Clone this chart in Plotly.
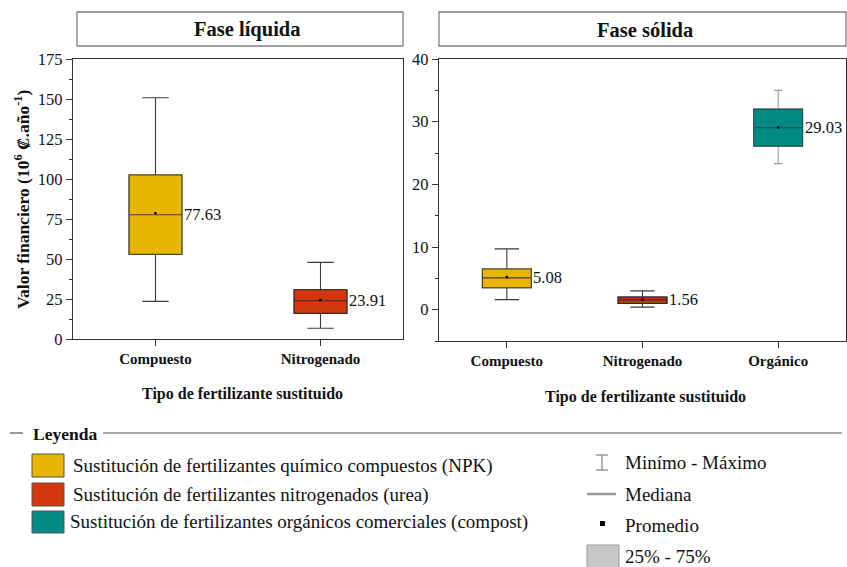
import plotly.graph_objects as go

W, H = 847, 567
SERIF = "Liberation Serif, Times New Roman, serif"

# ---- Fase líquida (10^6 ₡.año^-1) ----
liq_cat = ["Compuesto", "Nitrogenado"]
liq_min = [23.5, 6.7]
liq_q1 = [53.0, 16.0]
liq_med = [77.63, 23.91]
liq_q3 = [102.5, 30.8]
liq_max = [150.8, 47.9]
liq_mean = [78.6, 24.4]

# ---- Fase sólida ----
sol_cat = ["Compuesto", "Nitrogenado", "Orgánico"]
sol_min = [1.6, 0.4, 23.3]
sol_q1 = [3.5, 1.0, 26.1]
sol_med = [5.08, 1.56, 29.03]
sol_q3 = [6.5, 2.0, 32.0]
sol_max = [9.7, 3.0, 35.0]
sol_mean = [5.2, 1.6, 29.1]

fill = {"Compuesto": "#E9B500", "Nitrogenado": "#D2380B", "Orgánico": "#008A85"}
edge = {"Compuesto": "#4a4030", "Nitrogenado": "#3a2a25", "Orgánico": "#1f4f4c"}
whisk = {"Compuesto": "#3a3a3a", "Nitrogenado": "#3a3a3a", "Orgánico": "#9a9a9a"}
capw = {"Compuesto": 0.5, "Nitrogenado": 0.5, "Orgánico": 0.17}

legend_items = [
    "Sustitución de fertilizantes químico compuestos (NPK)",
    "Sustitución de fertilizantes nitrogenados (urea)",
    "Sustitución de fertilizantes orgánicos comerciales (compost)",
]
legend_colors = [fill["Compuesto"], fill["Nitrogenado"], fill["Orgánico"]]
stat_labels = ["Minímo - Máximo", "Mediana", "Promedio", "25% - 75%"]


def fx(px):
    return px / W


def fy(py):
    return 1 - py / H


fig = go.Figure()
annotations = []
shapes = []


def text_at(px, py, text, size, xanchor="center", angle=0):
    annotations.append(dict(x=fx(px), y=fy(py), xref="paper", yref="paper",
                            xanchor=xanchor, yanchor="middle", textangle=angle,
                            text=text, showarrow=False,
                            font=dict(family=SERIF, size=size, color="#111")))


def add_panel(cats, lo, q1, med, q3, hi, mean, xa, ya, bw):
    for i, c in enumerate(cats):
        # whiskers + box
        fig.add_trace(go.Box(
            x=[c], q1=[q1[i]], median=[med[i]], q3=[q3[i]],
            lowerfence=[lo[i]], upperfence=[hi[i]],
            width=bw, whiskerwidth=capw[c], fillcolor=fill[c],
            line=dict(color=whisk[c], width=1.1),
            boxpoints=False, showlegend=False, xaxis=xa, yaxis=ya,
        ))
        # box outline and median drawn on top
        fig.add_trace(go.Box(
            x=[c], q1=[q1[i]], median=[med[i]], q3=[q3[i]],
            lowerfence=[q1[i]], upperfence=[q3[i]],
            width=bw, whiskerwidth=0, fillcolor=fill[c],
            line=dict(color=edge[c], width=1.1),
            boxpoints=False, showlegend=False, xaxis=xa, yaxis=ya,
        ))
        annotations.append(dict(
            x=i + bw / 2, y=med[i], xref=xa, yref=ya, xanchor="left",
            yanchor="middle", xshift=0, showarrow=False,
            text=f"{med[i]:.2f}", font=dict(family=SERIF, size=16.5, color="#111"),
        ))
    fig.add_trace(go.Scatter(
        x=cats, y=mean, mode="markers", xaxis=xa, yaxis=ya, showlegend=False,
        marker=dict(symbol="square", size=2.5, color="black"),
    ))


add_panel(liq_cat, liq_min, liq_q1, liq_med, liq_q3, liq_max, liq_mean, "x", "y", 0.32)
add_panel(sol_cat, sol_min, sol_q1, sol_med, sol_q3, sol_max, sol_mean, "x2", "y2", 0.36)

axis_col = "#333333"
tickfont = dict(family=SERIF, size=16.5, color="#111")
catfont = dict(family=SERIF, size=15, color="#111", weight="bold")

common_x = dict(type="category", showline=True, linecolor=axis_col, linewidth=1.2,
                mirror=True, ticks="outside", ticklen=6, tickcolor=axis_col,
                showgrid=False, zeroline=False, tickfont=catfont, fixedrange=True,
                automargin=False)
common_y = dict(showline=True, linecolor=axis_col, linewidth=1.2, mirror=True,
                ticks="outside", ticklen=6, tickcolor=axis_col, showgrid=False,
                zeroline=False, tickfont=tickfont, fixedrange=True, automargin=False)

fig.update_layout(
    width=W, height=H, margin=dict(l=0, r=0, t=0, b=0, pad=0, autoexpand=False),
    paper_bgcolor="white", plot_bgcolor="white", boxmode="overlay",
    xaxis=dict(common_x, domain=[fx(73), fx(403)], anchor="y",
               categoryorder="array", categoryarray=liq_cat, range=[-0.5, 1.5]),
    yaxis=dict(common_y, domain=[fy(339), fy(59)], anchor="x", range=[0, 175],
               tick0=0, dtick=25,
               minor=dict(ticks="outside", ticklen=3, tickcolor=axis_col, dtick=12.5, tick0=0)),
    xaxis2=dict(common_x, domain=[fx(439), fx(846)], anchor="y2",
                categoryorder="array", categoryarray=sol_cat, range=[-0.5, 2.5]),
    yaxis2=dict(common_y, domain=[fy(341), fy(59)], anchor="x2", range=[-5, 40],
                tick0=0, dtick=10,
                minor=dict(ticks="outside", ticklen=3, tickcolor=axis_col, dtick=5, tick0=0)),
)

# panel headers
for x0, x1, label, cx in [(77, 403, "Fase líquida", 248), (439, 846, "Fase sólida", 645)]:
    shapes.append(dict(type="rect", xref="paper", yref="paper",
                       x0=fx(x0), x1=fx(x1), y0=fy(46), y1=fy(12),
                       line=dict(color="#808080", width=1.3), fillcolor="white", layer="below"))
    text_at(cx, 29.5, f"<b>{label}</b>", 20.5)

# axis titles
text_at(242, 394, "<b>Tipo de fertilizante sustituido</b>", 16)
text_at(645.5, 397, "<b>Tipo de fertilizante sustituido</b>", 16)
text_at(22, 200, "<b>Valor financiero (10<sup>6</sup> ₡.año<sup>-1</sup>)</b>", 17.5, angle=-90)

# legend frame
line_col = "#555555"
shapes.append(dict(type="line", xref="paper", yref="paper", x0=fx(10), x1=fx(23),
                   y0=fy(433), y1=fy(433), line=dict(color=line_col, width=1.2)))
shapes.append(dict(type="line", xref="paper", yref="paper", x0=fx(103), x1=fx(842),
                   y0=fy(433), y1=fy(433), line=dict(color=line_col, width=1.2)))
text_at(31, 434, "<b>Leyenda</b>", 17.5, xanchor="left")

# colour swatches
for (y0, y1, ty, tx), txt, col in zip(
        [(454, 477, 466, 71), (483, 506, 495, 71), (511, 533, 522, 68)],
        legend_items, legend_colors):
    shapes.append(dict(type="rect", xref="paper", yref="paper", x0=fx(32), x1=fx(64),
                       y0=fy(y1), y1=fy(y0), fillcolor=col,
                       line=dict(color="#555555", width=1)))
    text_at(tx, ty, txt, 19, xanchor="left")

# box statistics key
g = "#8c8c8c"
shapes += [
    dict(type="line", xref="paper", yref="paper", x0=fx(602), x1=fx(602), y0=fy(470), y1=fy(455),
         line=dict(color=g, width=1.3)),
    dict(type="line", xref="paper", yref="paper", x0=fx(596), x1=fx(608), y0=fy(455), y1=fy(455),
         line=dict(color=g, width=1.3)),
    dict(type="line", xref="paper", yref="paper", x0=fx(596), x1=fx(608), y0=fy(470), y1=fy(470),
         line=dict(color=g, width=1.3)),
    dict(type="line", xref="paper", yref="paper", x0=fx(587), x1=fx(616), y0=fy(494), y1=fy(494),
         line=dict(color="#9a9a9a", width=2.5)),
    dict(type="rect", xref="paper", yref="paper", x0=fx(600), x1=fx(605), y0=fy(526), y1=fy(521),
         fillcolor="black", line=dict(width=0)),
    dict(type="rect", xref="paper", yref="paper", x0=fx(587), x1=fx(619), y0=fy(568), y1=fy(545),
         fillcolor="#c8c8c8", line=dict(color="#9a9a9a", width=1)),
]
for txt, ty in zip(stat_labels, [462, 494, 525, 556]):
    text_at(623, ty, txt, 19, xanchor="left")

fig.update_layout(annotations=annotations, shapes=shapes)
fig.write_html("out.html")
